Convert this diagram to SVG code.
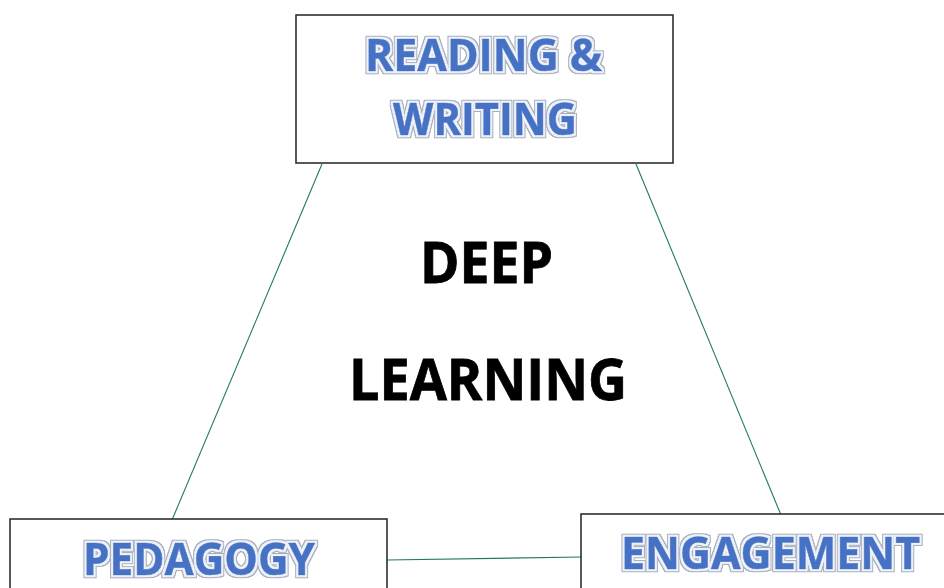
<svg xmlns="http://www.w3.org/2000/svg" width="944" height="588" viewBox="0 0 944 588">
  <defs>
    <!-- outlined "word art" look: grey halo, white rim, blue face -->
    <filter id="wordart" x="-5%" y="-25%" width="110%" height="150%">
      <feMorphology in="SourceAlpha" operator="dilate" radius="3" result="outer"/>
      <feFlood flood-color="#a3abb8"/>
      <feComposite in2="outer" operator="in" result="grey"/>
      <feMorphology in="SourceAlpha" operator="dilate" radius="1.9" result="inner"/>
      <feFlood flood-color="#eef3fb"/>
      <feComposite in2="inner" operator="in" result="rim"/>
      <feMerge>
        <feMergeNode in="grey"/>
        <feMergeNode in="rim"/>
        <feMergeNode in="SourceGraphic"/>
      </feMerge>
    </filter>
    <style>
      .box { fill: #ffffff; stroke: #2f2f2f; stroke-width: 1.6; }
      .link { stroke: #217a5e; stroke-width: 1.1; fill: none; }
      .label { font-family: "Open Sans", "Liberation Sans", sans-serif; font-weight: bold; font-size: 45px; fill: #4472c4; stroke: #4472c4; stroke-width: 0.6; filter: url(#wordart); }
      .centre { font-family: "Open Sans", "Liberation Sans", sans-serif; font-weight: bold; font-size: 57px; fill: #000000; stroke: #000000; stroke-width: 0.8; }
    </style>
  </defs>

  <rect width="944" height="588" fill="#ffffff"/>

  <!-- connectors -->
  <g id="connectors">
    <line class="link" x1="322" y1="164" x2="172" y2="520"/>
    <line class="link" x1="636" y1="164" x2="781" y2="515"/>
    <line class="link" x1="387" y1="560" x2="581" y2="557"/>
  </g>

  <g id="reading-writing">
    <rect class="box" x="296" y="15" width="377" height="148"/>
    <text class="label" x="365" y="71" textLength="237" lengthAdjust="spacingAndGlyphs">READING &amp;</text>
    <text class="label" x="393" y="135" textLength="184" lengthAdjust="spacingAndGlyphs">WRITING</text>
  </g>

  <g id="pedagogy">
    <rect class="box" x="10" y="519" width="377" height="100"/>
    <text class="label" x="83" y="575" textLength="232" lengthAdjust="spacingAndGlyphs">PEDAGOGY</text>
  </g>

  <g id="engagement">
    <rect class="box" x="581" y="514" width="380" height="100"/>
    <text class="label" x="621" y="569" textLength="299" lengthAdjust="spacingAndGlyphs">ENGAGEMENT</text>
  </g>

  <g id="deep-learning">
    <text class="centre" x="420" y="283" textLength="133" lengthAdjust="spacingAndGlyphs">DEEP</text>
    <text class="centre" x="349" y="400" textLength="278" lengthAdjust="spacingAndGlyphs">LEARNING</text>
  </g>
</svg>
